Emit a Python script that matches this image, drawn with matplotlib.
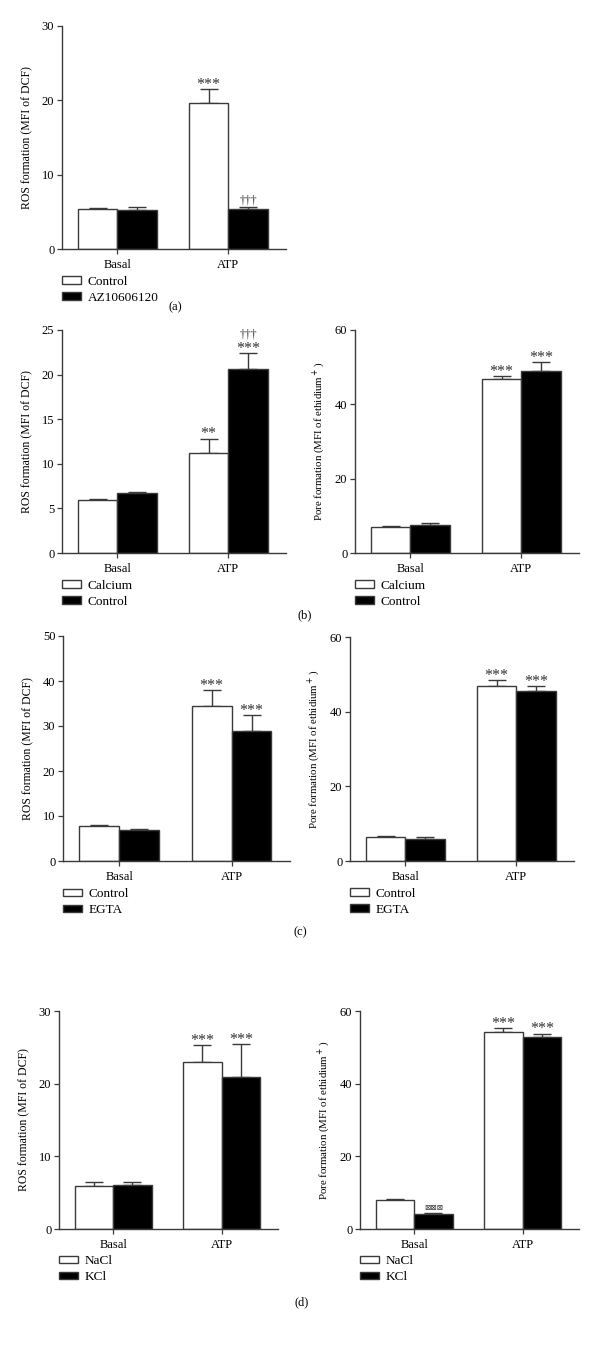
import numpy as np
import matplotlib
matplotlib.use("Agg")
import matplotlib.pyplot as plt

plt.rcParams['font.family'] = ['Liberation Serif', 'DejaVu Sans']

groups = ["Basal", "ATP"]

# (a) ROS, Control vs AZ10606120
a_names = ["Control", "AZ10606120"]
a_white = [5.4, 19.7]
a_white_err = [0.1, 1.8]
a_black = [5.3, 5.4]
a_black_err = [0.3, 0.2]

# (b) Calcium vs Control
b_names = ["Calcium", "Control"]
b_ros_white = [5.9, 11.2]
b_ros_white_err = [0.1, 1.6]
b_ros_black = [6.7, 20.6]
b_ros_black_err = [0.1, 1.8]
b_pore_white = [6.9, 46.8]
b_pore_white_err = [0.3, 0.8]
b_pore_black = [7.5, 49.0]
b_pore_black_err = [0.6, 2.4]

# (c) Control vs EGTA
c_names = ["Control", "EGTA"]
c_ros_white = [7.7, 34.5]
c_ros_white_err = [0.4, 3.5]
c_ros_black = [6.8, 28.8]
c_ros_black_err = [0.4, 3.6]
c_pore_white = [6.5, 46.9]
c_pore_white_err = [0.2, 1.5]
c_pore_black = [5.9, 45.5]
c_pore_black_err = [0.5, 1.3]

# (d) NaCl vs KCl
d_names = ["NaCl", "KCl"]
d_ros_white = [5.9, 23.0]
d_ros_white_err = [0.5, 2.3]
d_ros_black = [6.0, 20.9]
d_ros_black_err = [0.5, 4.5]
d_pore_white = [8.0, 54.3]
d_pore_white_err = [0.2, 0.9]
d_pore_black = [4.2, 52.8]
d_pore_black_err = [0.3, 1.0]

ros_label = "ROS formation (MFI of DCF)"
pore_label = "Pore formation (MFI of ethidium$^+$)"

W, H = 600, 1358
fig = plt.figure(figsize=(W / 100, H / 100), dpi=100)

EDGE = "#3a3a3a"
BW = 0.355
STAR = "***"
DAG = "\u2020\u2020\u2020"
BOX = "\u22a0\u22a0\u22a0"

# (font family, size, baseline offset in pt above the cap)
MARK_STYLE = {
    STAR: (["Liberation Serif"], 11.5, 0.3),
    "**": (["Liberation Serif"], 11.5, 0.3),
    DAG: (["Liberation Serif"], 8.5, 2.5),
    BOX: (["DejaVu Sans"], 5.5, 2.0),
}


def px_axes(x0, y0, x1, y1):
    # pixel box -> figure fraction
    return fig.add_axes([x0 / W, 1 - y1 / H, (x1 - x0) / W, (y1 - y0) / H])


def panel(ax, white, white_err, black, black_err, names, ymax, step, ylabel, ylfs,
          marks_white=None, marks_black=None):
    x = np.arange(len(groups))
    bw = ax.bar(x - BW / 2, white, BW, color="white", edgecolor=EDGE,
                linewidth=1.0, label=names[0], zorder=2)
    bb = ax.bar(x + BW / 2, black, BW, color="black", edgecolor=EDGE,
                linewidth=1.0, label=names[1], zorder=2)
    for xs, vals, errs in [(x - BW / 2, white, white_err), (x + BW / 2, black, black_err)]:
        ax.errorbar(xs, vals, yerr=[np.zeros(len(errs)), errs], fmt="none",
                    ecolor=EDGE, elinewidth=1.0, capsize=6.5, capthick=1.0, zorder=1)
    ax.set_xlim(-0.5, 1.52)
    ax.set_ylim(0, ymax)
    ax.set_yticks(np.arange(0, ymax + 0.1, step))
    ax.set_xticks(x)
    ax.set_xticklabels(groups, fontsize=9)
    ax.tick_params(axis="y", labelsize=9, length=3.5, width=0.9, color=EDGE, pad=2)
    ax.tick_params(axis="x", length=3.5, width=0.9, color=EDGE, pad=4)
    for s in ["top", "right"]:
        ax.spines[s].set_visible(False)
    for s in ["left", "bottom"]:
        ax.spines[s].set_color(EDGE)
        ax.spines[s].set_linewidth(1.0)
    ax.set_ylabel(ylabel, fontsize=ylfs, labelpad=6)
    for marks, xs, vals, errs in [(marks_white, x - BW / 2, white, white_err),
                                  (marks_black, x + BW / 2, black, black_err)]:
        if not marks:
            continue
        for i, m in enumerate(marks):
            if not m:
                continue
            top = vals[i] + errs[i]
            extra = 0
            for line in m:
                fam, fs, dy = MARK_STYLE[line]
                ax.annotate(line, (xs[i], top), xytext=(0, dy + extra),
                            textcoords="offset points", ha="center", va="baseline",
                            fontsize=fs, color="#333333", family=fam)
                extra += 8.5
    ax.legend(handles=[bw, bb], loc="upper left", bbox_to_anchor=(0.0, -0.12),
              frameon=False, fontsize=9.5, handlelength=1.45, handleheight=0.5,
              handletextpad=0.5, borderaxespad=0, borderpad=0, labelspacing=0.3)


ax = px_axes(62, 26, 286, 249)
panel(ax, a_white, a_white_err, a_black, a_black_err, a_names, 30, 10, ros_label, 8.5,
      marks_white=[None, [STAR]], marks_black=[None, [DAG]])

ax = px_axes(62, 330, 286, 553)
panel(ax, b_ros_white, b_ros_white_err, b_ros_black, b_ros_black_err, b_names, 25, 5,
      ros_label, 8.5, marks_white=[None, ["**"]], marks_black=[None, [STAR, DAG]])

ax = px_axes(355, 330, 579, 553)
panel(ax, b_pore_white, b_pore_white_err, b_pore_black, b_pore_black_err, b_names, 60, 20,
      pore_label, 7.8, marks_white=[None, [STAR]], marks_black=[None, [STAR]])

ax = px_axes(63, 636, 290, 861)
panel(ax, c_ros_white, c_ros_white_err, c_ros_black, c_ros_black_err, c_names, 50, 10,
      ros_label, 8.5, marks_white=[None, [STAR]], marks_black=[None, [STAR]])

ax = px_axes(350, 637, 574, 861)
panel(ax, c_pore_white, c_pore_white_err, c_pore_black, c_pore_black_err, c_names, 60, 20,
      pore_label, 7.8, marks_white=[None, [STAR]], marks_black=[None, [STAR]])

ax = px_axes(59, 1011, 278, 1229)
panel(ax, d_ros_white, d_ros_white_err, d_ros_black, d_ros_black_err, d_names, 30, 10,
      ros_label, 8.5, marks_white=[None, [STAR]], marks_black=[None, [STAR]])

ax = px_axes(360, 1011, 579, 1229)
panel(ax, d_pore_white, d_pore_white_err, d_pore_black, d_pore_black_err, d_names, 60, 20,
      pore_label, 7.8, marks_white=[None, [STAR]], marks_black=[[BOX], [STAR]])

for lab, px, py in [("(a)", 175, 307), ("(b)", 305, 615), ("(c)", 300, 932), ("(d)", 302, 1302)]:
    fig.text(px / W, 1 - py / H, lab, ha="center", va="center", fontsize=9)

fig.savefig("out.png", dpi=100, facecolor="white")
